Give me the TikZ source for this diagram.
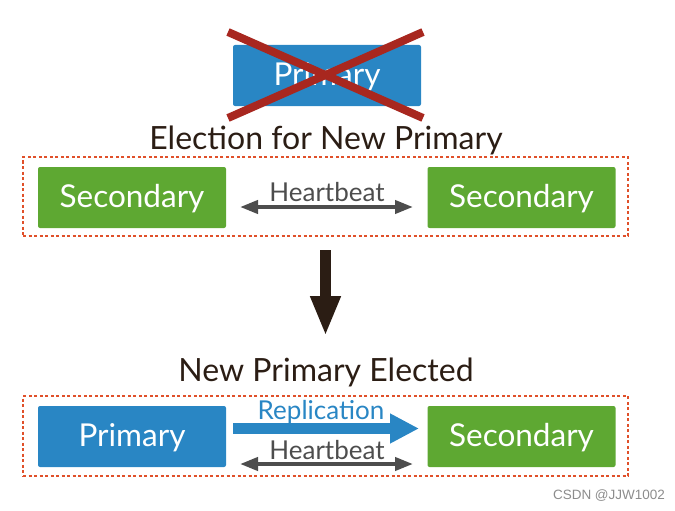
\documentclass[tikz,border=0pt]{standalone}
\usepackage{fontspec}
\setmainfont{Lato}
\newfontfamily\wmfont{Liberation Sans}
\usetikzlibrary{arrows.meta}
\definecolor{pblue}{HTML}{2986C4}
\definecolor{sgreen}{HTML}{5EA832}
\definecolor{xred}{HTML}{A8271F}
\definecolor{dorange}{HTML}{E0502A}
\definecolor{hgray}{HTML}{4D4D4D}
\definecolor{darrow}{HTML}{2B1D14}
\begin{document}
\begin{tikzpicture}[x=1pt,y=-1pt,
  nodebox/.style={minimum width=188pt,minimum height=61pt,rounded corners=2pt,inner sep=0pt,text=white,text height=27pt,text depth=7pt,font=\fontsize{31.5}{33}\selectfont},
  primbox/.style={nodebox,fill=pblue},
  secbox/.style={nodebox,fill=sgreen},
  dashbox/.style={draw=dorange,line width=1.6pt,dash pattern=on 3pt off 2.5pt},
  hb/.style={hgray,line width=4pt,{Triangle[length=18pt,width=13pt]}-{Triangle[length=18pt,width=13pt]}},
  hblabel/.style={text=hgray,font=\fontsize{26}{28}\selectfont,inner sep=0pt},
  title/.style={text=darrow,font=\fontsize{32}{34}\selectfont,inner sep=0pt}]
\useasboundingbox (0,0) rectangle (675,511);
% top crossed primary
\node[primbox] (oldp) at (327,75.5) {Primary};
\coordinate (x1) at (228,32);
\coordinate (x2) at (423,118);
\coordinate (x3) at (423,32);
\coordinate (x4) at (228,118);
\draw[xred,line width=8pt] (x1) -- (x2);
\draw[xred,line width=8pt] (x3) -- (x4);
\node[title] (t1) at (326,140) {Election for New Primary};
% group 1
\node[dashbox,minimum width=605pt,minimum height=79pt,inner sep=0pt] (g1) at (325.5,196.5) {};
\node[secbox] (s1) at (132,197.5) {Secondary};
\node[secbox] (s2) at (521.5,197.5) {Secondary};
\coordinate (h1a) at (240,207);
\coordinate (h1b) at (413,207);
\draw[hb] (h1a) -- (h1b);
\node[hblabel] (h1t) at (327,192) {Heartbeat};
% down arrow
\coordinate (da) at (325.5,250);
\coordinate (db) at (325.5,336);
\draw[darrow,line width=11pt,-{Triangle[length=40pt,width=28pt]}] (da) -- (db);
\node[title] (t2) at (326,372) {New Primary Elected};
% group 2
\node[dashbox,minimum width=605pt,minimum height=80pt,inner sep=0pt] (g2) at (325.5,436) {};
\node[primbox] (p) at (132,436.5) {Primary};
\node[secbox] (s3) at (521.5,436.5) {Secondary};
\coordinate (ra) at (233,428.5);
\coordinate (rb) at (419,428.5);
\draw[pblue,line width=11pt,-{Triangle[length=29pt,width=28pt]}] (ra) -- (rb);
\node[hblabel,text=pblue] (rt) at (321,412) {Replication};
\coordinate (h2a) at (240,464);
\coordinate (h2b) at (413,464);
\draw[hb] (h2a) -- (h2b);
\node[hblabel] (h2t) at (327,450) {Heartbeat};
\node[text=black!45,font=\fontsize{13.5}{15}\selectfont\wmfont,inner sep=0pt] (wm) at (609,496) {CSDN @JJW1002};
\end{tikzpicture}
\end{document}
